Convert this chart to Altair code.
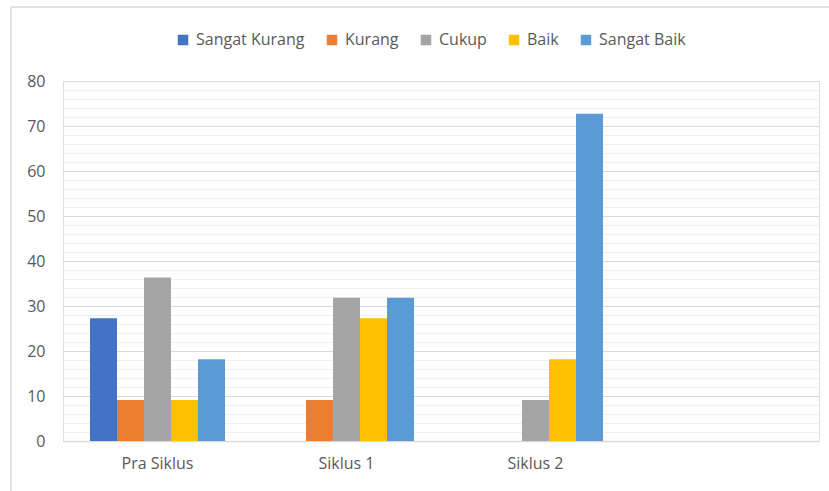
import altair as alt
import pandas as pd

# Categories on the x axis (the last slot is an empty placeholder)
siklus = ["Pra Siklus", "Siklus 1", "Siklus 2", " "]
kategori = ["Sangat Kurang", "Kurang", "Cukup", "Baik", "Sangat Baik"]
warna = ["#4472C4", "#ED7D31", "#A5A5A5", "#FFC000", "#5B9BD5"]

# Percentages per category for each cycle
pra_siklus = [27.27, 9.09, 36.36, 9.09, 18.18]
siklus_1 = [0, 9.09, 31.82, 27.27, 31.82]
siklus_2 = [0, 0, 9.09, 18.18, 72.73]

rows = []
for name, vals in zip(siklus[:3], [pra_siklus, siklus_1, siklus_2]):
    for k, v in zip(kategori, vals):
        rows.append({"Siklus": name, "Kategori": k, "Nilai": v})
df = pd.DataFrame(rows)

FONT = "Open Sans"
TXT = "#595959"
FS = 16

bars = alt.Chart(df).mark_bar().encode(
    x=alt.X(
        "Siklus:N",
        scale=alt.Scale(domain=siklus, paddingInner=0.2857, paddingOuter=0.1429),
        sort=siklus,
        axis=alt.Axis(
            title=None, domain=False, ticks=False, labelAngle=0,
            labelPadding=14, labelFontSize=FS, labelColor=TXT, labelFont=FONT,
        ),
    ),
    xOffset=alt.XOffset(
        "Kategori:N", sort=kategori,
        scale=alt.Scale(domain=kategori, paddingInner=0, paddingOuter=0),
    ),
    y=alt.Y(
        "Nilai:Q",
        scale=alt.Scale(domain=[0, 80], nice=False),
        axis=alt.Axis(
            title=None, domain=False, ticks=False,
            values=list(range(0, 81, 2)),
            labelExpr="datum.value % 10 === 0 ? datum.label : ''",
            labelPadding=18, labelFontSize=FS, labelColor=TXT, labelFont=FONT,
            gridColor={"condition": {"test": "datum.value % 10 === 0", "value": "#d9d9d9"},
                       "value": "#f0f0f0"},
            gridWidth={"condition": {"test": "datum.value === 0", "value": 1.5},
                       "value": 1},
        ),
    ),
    color=alt.Color(
        "Kategori:N",
        scale=alt.Scale(domain=kategori, range=warna),
        sort=kategori,
        legend=alt.Legend(
            title=None, orient="none", direction="horizontal",
            legendX=112, legendY=-49,
            symbolType="square", symbolSize=110, symbolStrokeWidth=0,
            labelFontSize=FS, labelColor=TXT, labelFont=FONT,
            labelOffset=5, columnPadding=19,
        ),
    ),
)

# Outer chart frame: only the left and top edges show on the page
one = pd.DataFrame({"a": [0]})
frame_left = alt.Chart(one).mark_rule(color="#d9d9d9", strokeWidth=1.5).encode(
    x=alt.value(-52), y=alt.value(-74), y2=alt.value(410)
)
frame_top = alt.Chart(one).mark_rule(color="#d9d9d9", strokeWidth=1.5).encode(
    x=alt.value(-52), x2=alt.value(766), y=alt.value(-74)
)

chart = alt.layer(frame_left, frame_top, bars).properties(
    width=756, height=360,
    autosize=alt.AutoSizeParams(type="none"),
    padding={"left": 63, "top": 81, "right": 10, "bottom": 50},
).configure_view(stroke=None).configure(background="white")

chart.save("out.html", embed_options={"renderer": "svg", "actions": False})
